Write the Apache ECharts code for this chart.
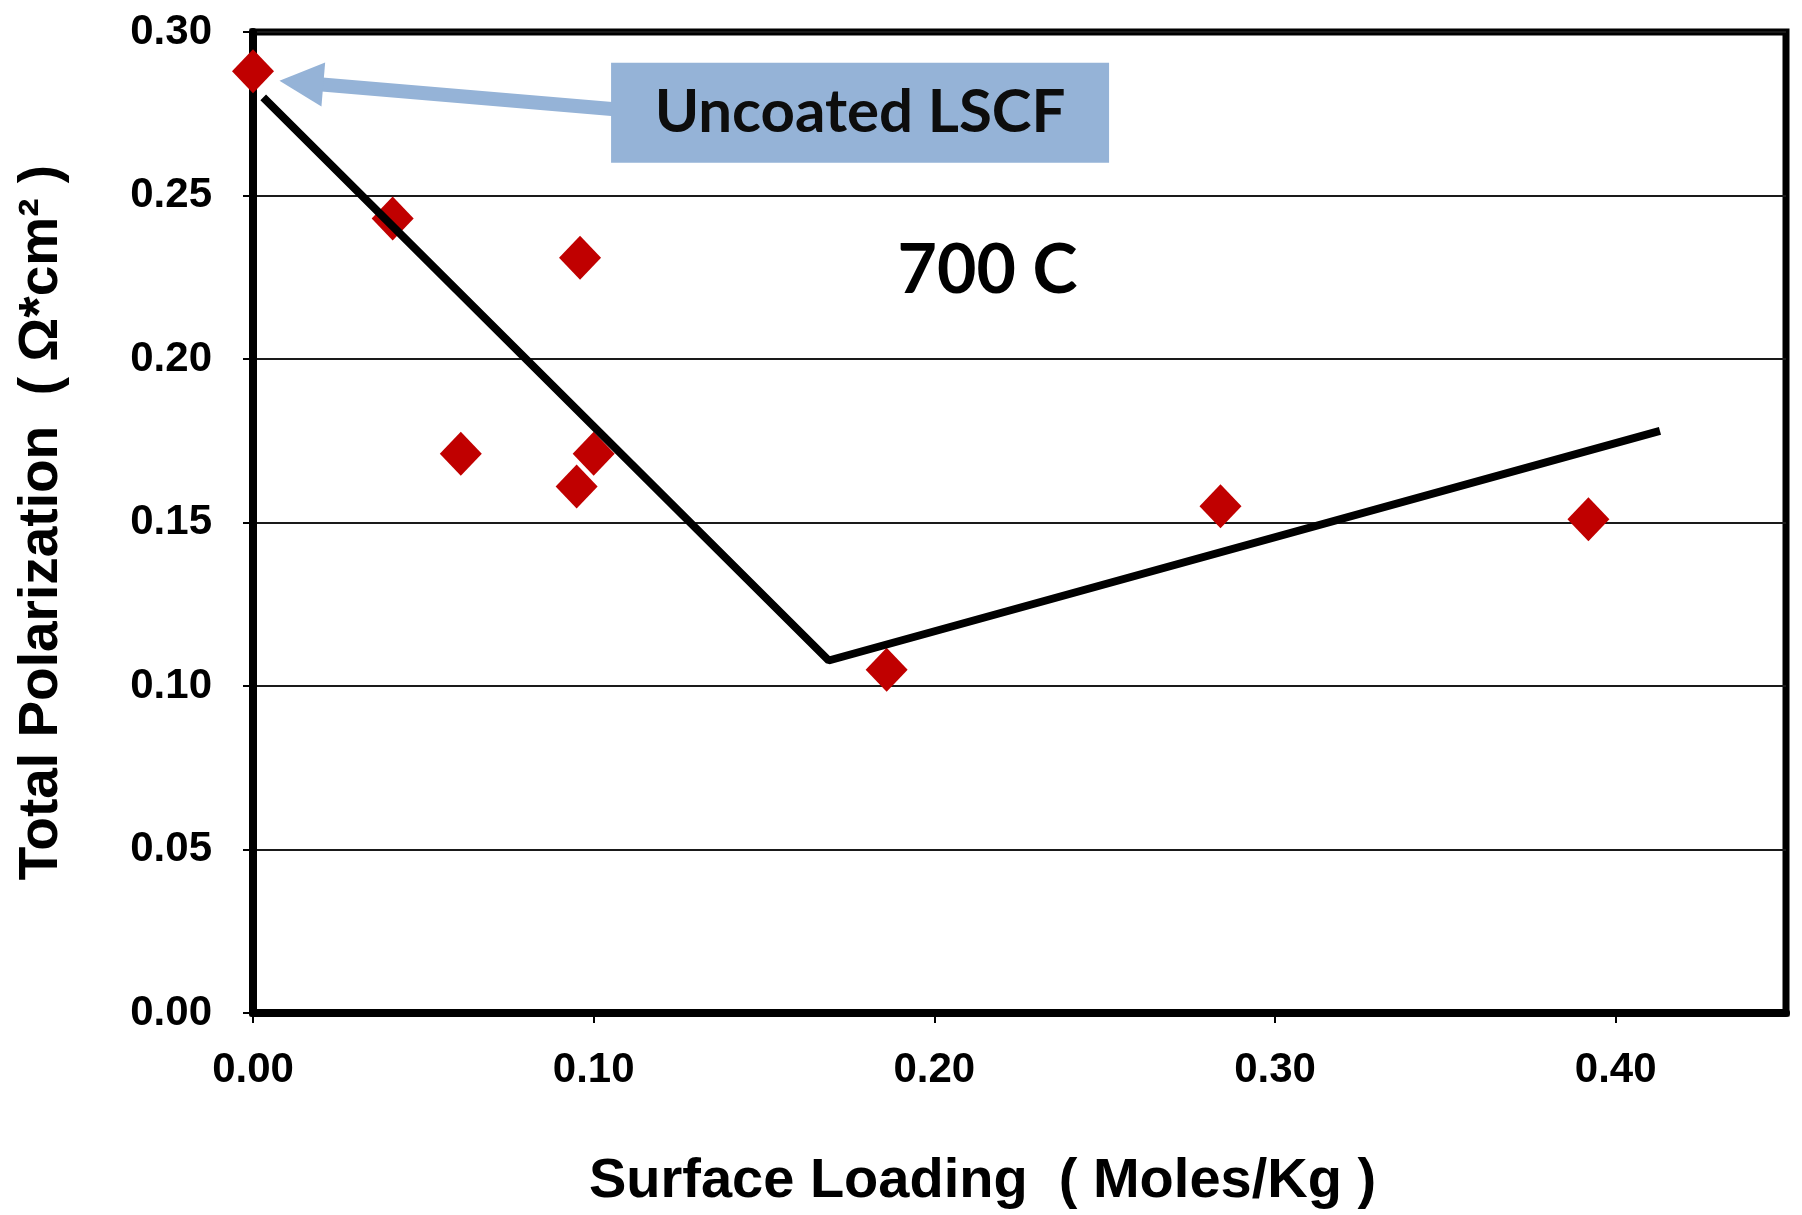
<!DOCTYPE html>
<html>
<head>
<meta charset="utf-8">
<title>Total Polarization vs Surface Loading</title>
<script src="https://cdn.jsdelivr.net/npm/echarts@6/dist/echarts.min.js"></script>
<style>
  html, body { margin: 0; padding: 0; background: #fff; }
  #chart { width: 1802px; height: 1215px; }
</style>
</head>
<body>
<div id="chart"></div>
<script>
// measured points (Moles/Kg, Ohm*cm2)
const loading = [0.000, 0.041, 0.096, 0.061, 0.100, 0.095, 0.186, 0.284, 0.392];
const polarization = [0.288, 0.243, 0.231, 0.171, 0.171, 0.161, 0.105, 0.155, 0.151];

// hand drawn trend line
const trendX = [0.003, 0.169, 0.413];
const trendY = [0.280, 0.1078, 0.178];

// tick labels
const xTickLabels = ['0.00', '0.10', '0.20', '0.30', '0.40'];
const yTickLabels = ['0.00', '0.05', '0.10', '0.15', '0.20', '0.25', '0.30'];

// annotations, in data units
const arrowFrom = [0.114, 0.2757];
const arrowTo = [0.0142, 0.2845];
const calloutAt = [0.1782, 0.2753];
const tempAt = [0.2156, 0.2269];

const axisFont = 'Liberation Sans, Arial, sans-serif';
const noteFont = 'Lato, Calibri, sans-serif';

const chart = echarts.init(document.getElementById('chart'));

const points = loading.map((x, i) => [x, polarization[i]]);
const trend = trendX.map((x, i) => [x, trendY[i]]);

const option = {
  animation: false,
  grid: {
    left: 253,
    right: 16,
    top: 32,
    bottom: 199.5,
    show: true,
    borderColor: '#000',
    borderWidth: 7,
    backgroundColor: '#fff',
  },
  xAxis: {
    type: 'value',
    min: 0,
    max: 0.45,
    interval: 0.1,
    name: 'Surface Loading  ( Moles/Kg )',
    nameLocation: 'middle',
    nameGap: 141,
    nameTextStyle: {
      fontFamily: axisFont,
      fontWeight: 'bold',
      fontSize: 56,
      color: '#000',
      padding: [0, 74, 0, 0],
    },
    axisLine: { lineStyle: { color: '#000', width: 8 } },
    axisTick: { show: true, inside: false, length: 10, lineStyle: { color: '#000', width: 2 } },
    splitLine: { show: false },
    axisLabel: {
      margin: 36,
      showMaxLabel: false,
      fontFamily: axisFont,
      fontWeight: 'bold',
      fontSize: 42,
      lineHeight: 42,
      color: '#000',
      formatter: (v) => xTickLabels[Math.round(v * 10)] || '',
    },
  },
  yAxis: {
    type: 'value',
    min: 0,
    max: 0.3,
    interval: 0.05,
    name: 'Total Polarization  ( Ω*cm² )',
    nameLocation: 'middle',
    nameRotate: 90,
    nameGap: 184,
    nameTextStyle: {
      fontFamily: axisFont,
      fontWeight: 'bold',
      fontSize: 55,
      color: '#000',
    },
    axisLine: { show: true, lineStyle: { color: '#000', width: 8 } },
    axisTick: { show: true, inside: false, length: 10, lineStyle: { color: '#000', width: 2 } },
    splitLine: { show: true, lineStyle: { color: '#1a1a1a', width: 2 } },
    axisLabel: {
      margin: 41,
      fontFamily: axisFont,
      fontWeight: 'bold',
      fontSize: 42,
      color: '#000',
      formatter: (v) => yTickLabels[Math.round(v * 20)] || '',
    },
  },
  series: [
    {
      name: 'Measured',
      type: 'scatter',
      symbol: 'diamond',
      symbolSize: [42, 44],
      itemStyle: { color: '#C00000', opacity: 1 },
      data: points,
      z: 3,
      markLine: {
        silent: true,
        symbol: ['none', 'triangle'],
        symbolSize: 44,
        label: { show: false },
        lineStyle: { color: '#95B3D7', width: 14, type: 'solid', opacity: 1 },
        itemStyle: { color: '#95B3D7' },
        data: [[{ coord: arrowFrom }, { coord: arrowTo }]],
        z: 5,
      },
    },
    {
      name: 'Trend',
      type: 'line',
      data: trend,
      showSymbol: false,
      symbol: 'none',
      lineStyle: { color: '#000', width: 8, cap: 'butt' },
      z: 4,
      markPoint: {
        silent: true,
        z: 6,
        data: [
          {
            coord: calloutAt,
            symbol: 'rect',
            symbolSize: [498, 100],
            itemStyle: { color: '#95B3D7' },
            label: {
              show: true,
              position: 'inside',
              formatter: 'Uncoated LSCF',
              fontFamily: noteFont,
              fontWeight: 'bold',
              fontSize: 60,
              color: '#0d0d0d',
            },
          },
          {
            coord: tempAt,
            symbol: 'rect',
            symbolSize: [180, 70],
            itemStyle: { color: 'rgba(0,0,0,0)' },
            label: {
              show: true,
              position: 'inside',
              formatter: '700 C',
              fontFamily: noteFont,
              fontWeight: 'bold',
              fontSize: 68,
              color: '#000',
            },
          },
        ],
      },
    },
  ],
};

chart.setOption(option);
window.addEventListener('resize', () => chart.resize());
</script>
</body>
</html>
